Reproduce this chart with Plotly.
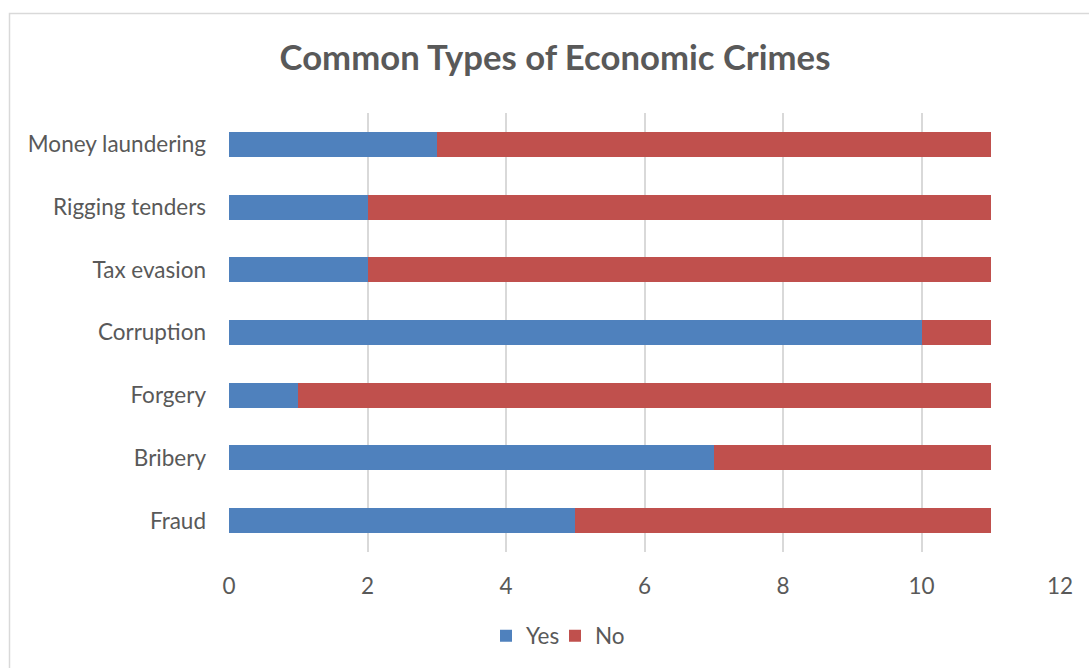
import plotly.graph_objects as go

categories = ["Fraud", "Bribery", "Forgery", "Corruption", "Tax evasion", "Rigging tenders", "Money laundering"]
yes_vals = [5, 7, 1, 10, 2, 2, 3]
no_vals = [6, 4, 10, 1, 9, 9, 8]
x_ticks = [0, 2, 4, 6, 8, 10, 12]

W, H = 1089, 668
L, R, T, B = 229, 29, 113, 116
pw, ph = W - L - R, H - T - B

fig = go.Figure()
fig.add_trace(go.Bar(y=categories, x=yes_vals, name="Yes", orientation="h", legend="legend",
                     marker=dict(color="#4F81BD", line=dict(width=0))))
fig.add_trace(go.Bar(y=categories, x=no_vals, name="No", orientation="h", legend="legend2",
                     marker=dict(color="#C0504D", line=dict(width=0))))

def px_x(p):
    return (p - L) / pw

def px_y(p):
    return (H - B - p) / ph

fs = 22.5
leg_common = dict(orientation="h", xref="paper", xanchor="left", y=px_y(636), yanchor="middle",
                  bgcolor="rgba(0,0,0,0)",
                  font=dict(size=fs, color="#595959"), itemwidth=30)
fig.update_layout(
    width=W, height=H,
    barmode="stack", bargap=0.6,
    margin=dict(l=L, r=R, t=T, b=B, autoexpand=False),
    paper_bgcolor="white", plot_bgcolor="white",
    font=dict(family="Lato, Open Sans, sans-serif", color="#595959", size=fs),
    title=dict(text="<b>Common Types of Economic Crimes</b>", x=555 / W, xref="container",
               xanchor="center", y=1 - 58 / H, yanchor="middle",
               font=dict(size=34.7, color="#595959")),
    xaxis=dict(range=[0, 12], tickvals=x_ticks, showgrid=True, gridcolor="#D9D9D9",
               gridwidth=1.5, zeroline=False, showline=False, ticks="",
               ticklabelstandoff=18,
               tickfont=dict(size=fs, color="#595959"), fixedrange=True),
    yaxis=dict(categoryorder="array", categoryarray=categories, showgrid=False,
               showline=False, ticks="", zeroline=False, ticklabelstandoff=22,
               tickfont=dict(size=fs, color="#595959")),
    legend=dict(x=px_x(486), **leg_common),
    legend2=dict(x=px_x(555), **leg_common),
    showlegend=True,
    shapes=[dict(type="rect", xref="paper", yref="paper",
                 x0=px_x(9.5), x1=px_x(1100), y0=px_y(680), y1=px_y(13.5),
                 line=dict(color="#D9D9D9", width=1.5), fillcolor="rgba(0,0,0,0)", layer="below")],
)

fig.write_html("out.html")
